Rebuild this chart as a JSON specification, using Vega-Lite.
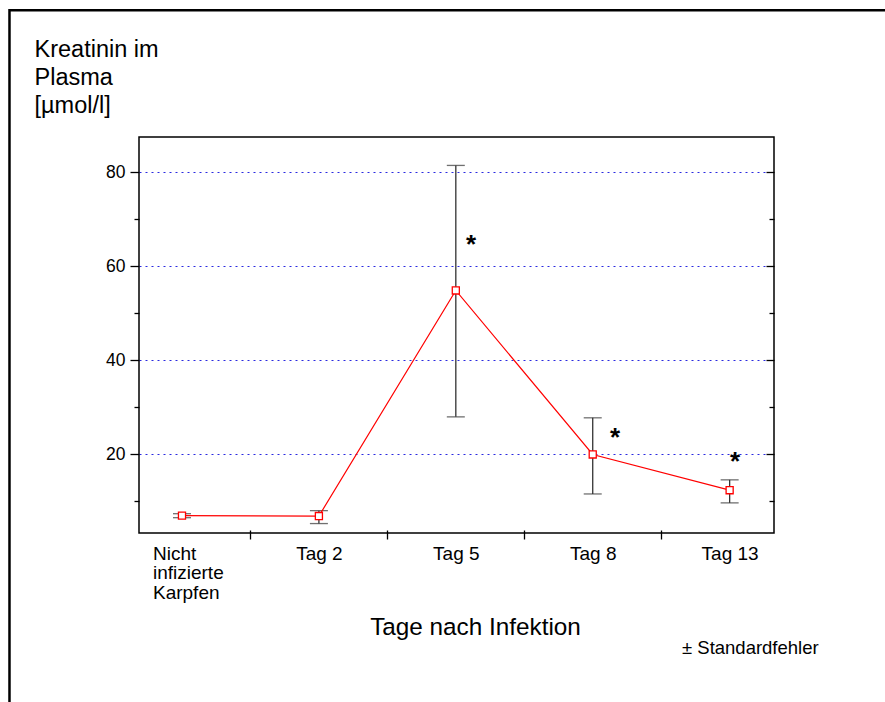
{
  "$schema": "https://vega.github.io/schema/vega-lite/v6.json",
  "width": 635,
  "height": 396,
  "autosize": {"type": "none"},
  "padding": {"left": 139, "top": 137, "right": 111, "bottom": 169},
  "background": "white",
  "config": {
    "font": "Liberation Sans",
    "view": {"stroke": "#000000", "strokeWidth": 1.5}
  },
  "datasets": {
    "werte": [
      {"Gruppe": "Nicht infizierte Karpfen", "pos": 0, "mw": 6.9, "lo": 6.45, "hi": 7.3},
      {"Gruppe": "Tag 2", "pos": 1, "mw": 6.8, "lo": 5.2, "hi": 7.95},
      {"Gruppe": "Tag 5", "pos": 2, "mw": 54.8, "lo": 27.9, "hi": 81.4},
      {"Gruppe": "Tag 8", "pos": 3, "mw": 19.9, "lo": 11.5, "hi": 27.7},
      {"Gruppe": "Tag 13", "pos": 4, "mw": 12.3, "lo": 9.6, "hi": 14.5}
    ],
    "sterne": [
      {"x": 2.111, "y": 65.7, "t": "*"},
      {"x": 3.163, "y": 24.6, "t": "*"},
      {"x": 4.039, "y": 19.6, "t": "*"}
    ],
    "notiz": [
      {"x": 3.652, "y": -22.54, "t": "± Standardfehler"}
    ],
    "kontrolle": [
      {"x": -0.212, "y": -2.51, "t": "Nicht infizierte Karpfen"}
    ],
    "rahmen": [
      {"x": -1.26, "x2": 5.3, "y": 114.4, "y2": -45}
    ]
  },
  "resolve": {"axis": {"y": "independent", "x": "independent"}},
  "layer": [
    {
      "data": {"name": "werte"},
      "mark": {"type": "rule", "color": "#333333", "strokeWidth": 1.3},
      "encoding": {
        "x": {
          "field": "pos", "type": "quantitative",
          "scale": {"domain": [-0.314, 4.324], "nice": false, "zero": false},
          "axis": {
            "orient": "bottom",
            "values": [0.5, 1.5, 2.5, 3.5],
            "domain": false,
            "grid": false,
            "labels": false,
            "offset": -3,
            "tickSize": 9,
            "tickColor": "#000000",
            "tickWidth": 1.3,
            "title": null
          }
        },
        "y": {
          "field": "lo", "type": "quantitative",
          "scale": {"domain": [3.192, 87.447], "nice": false, "zero": false},
          "axis": {
            "orient": "left",
            "values": [10, 20, 30, 40, 50, 60, 70, 80],
            "domain": false,
            "grid": true,
            "gridColor": "#2a2ae0",
            "gridDash": [2, 4],
            "gridWidth": 1,
            "gridOpacity": {"condition": {"test": "datum.value % 20 == 0", "value": 1}, "value": 0},
            "tickColor": "#000000",
            "tickWidth": 1.3,
            "tickSize": {"condition": {"test": "datum.value % 20 == 0", "value": 9}, "value": 5},
            "labelExpr": "datum.value % 20 == 0 ? datum.label : ''",
            "labelFontSize": 17.5,
            "labelColor": "#000000",
            "labelPadding": 5,
            "title": ["Kreatinin im", "Plasma", "[µmol/l]"],
            "titleAngle": 0,
            "titleAlign": "left",
            "titleBaseline": "alphabetic",
            "titleX": -105,
            "titleY": -81,
            "titleFontSize": 23.5,
            "titleFontWeight": "normal",
            "titleLineHeight": 28,
            "titleColor": "#000000"
          }
        },
        "y2": {"field": "hi"}
      }
    },
    {
      "data": {"name": "werte"},
      "mark": {"type": "tick", "orient": "horizontal", "color": "#333333", "size": 18, "thickness": 1.3},
      "encoding": {
        "x": {
          "field": "pos", "type": "quantitative",
          "axis": {
            "orient": "bottom",
            "values": [1, 2, 3, 4],
            "domain": false,
            "grid": false,
            "ticks": false,
            "tickSize": 0,
            "labelExpr": "datum.value == 1 ? 'Tag 2' : datum.value == 2 ? 'Tag 5' : datum.value == 3 ? 'Tag 8' : datum.value == 4 ? 'Tag 13' : ''",
            "labelAlign": "center",
            "labelBaseline": "alphabetic",
            "labelPadding": 26,
            "labelFontSize": 19,
            "labelColor": "#000000",
            "labelOverlap": false,
            "labelBound": false,
            "labelFlush": false,
            "title": "Tage nach Infektion",
            "titleFontSize": 24.3,
            "titleFontWeight": "normal",
            "titleColor": "#000000",
            "titleX": 336,
            "titleY": 101.5,
            "titleAlign": "center",
            "titleBaseline": "alphabetic"
          }
        },
        "y": {
          "field": "lo", "type": "quantitative",
          "axis": {
            "orient": "right",
            "values": [10, 20, 30, 40, 50, 60, 70, 80],
            "domain": false,
            "grid": false,
            "labels": false,
            "title": null,
            "tickColor": "#000000",
            "tickWidth": 1.3,
            "tickSize": {"condition": {"test": "datum.value % 20 == 0", "value": -8}, "value": -5}
          }
        }
      }
    },
    {
      "data": {"name": "werte"},
      "mark": {"type": "tick", "orient": "horizontal", "color": "#333333", "size": 18, "thickness": 1.3},
      "encoding": {
        "x": {"field": "pos", "type": "quantitative", "axis": null},
        "y": {"field": "hi", "type": "quantitative", "axis": null}
      }
    },
    {
      "data": {"name": "werte"},
      "mark": {"type": "line", "color": "#ff0000", "strokeWidth": 1.2},
      "encoding": {
        "x": {"field": "pos", "type": "quantitative", "axis": null},
        "y": {"field": "mw", "type": "quantitative", "axis": null}
      }
    },
    {
      "data": {"name": "werte"},
      "mark": {"type": "point", "shape": "square", "size": 50, "filled": true, "fill": "#ffffff", "stroke": "#ff0000", "strokeWidth": 1.3, "opacity": 1},
      "encoding": {
        "x": {"field": "pos", "type": "quantitative", "axis": null},
        "y": {"field": "mw", "type": "quantitative", "axis": null}
      }
    },
    {
      "data": {"name": "sterne"},
      "mark": {"type": "text", "fontSize": 26, "fontWeight": "bold", "color": "#000000", "baseline": "middle", "align": "center", "dy": 6, "clip": false},
      "encoding": {
        "x": {"field": "x", "type": "quantitative", "axis": null},
        "y": {"field": "y", "type": "quantitative", "axis": null},
        "text": {"field": "t"}
      }
    },
    {
      "data": {"name": "kontrolle"},
      "mark": {"type": "text", "fontSize": 19, "color": "#000000", "baseline": "alphabetic", "align": "left", "lineBreak": " ", "lineHeight": 19.5, "clip": false},
      "encoding": {
        "x": {"field": "x", "type": "quantitative", "axis": null},
        "y": {"field": "y", "type": "quantitative", "axis": null},
        "text": {"field": "t"}
      }
    },
    {
      "data": {"name": "notiz"},
      "mark": {"type": "text", "fontSize": 18.5, "color": "#000000", "baseline": "alphabetic", "align": "left", "clip": false},
      "encoding": {
        "x": {"field": "x", "type": "quantitative", "axis": null},
        "y": {"field": "y", "type": "quantitative", "axis": null},
        "text": {"field": "t"}
      }
    },
    {
      "data": {"name": "rahmen"},
      "mark": {"type": "rect", "filled": false, "stroke": "#000000", "strokeWidth": 2.5, "clip": false},
      "encoding": {
        "x": {"field": "x", "type": "quantitative", "axis": null},
        "x2": {"field": "x2"},
        "y": {"field": "y", "type": "quantitative", "axis": null},
        "y2": {"field": "y2"}
      }
    }
  ]
}
